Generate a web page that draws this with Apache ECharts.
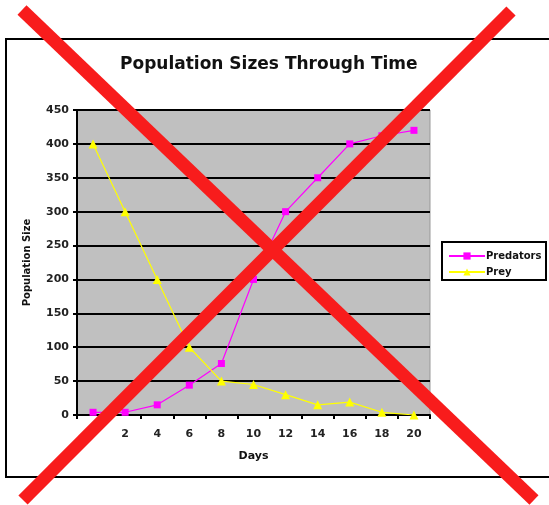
<!DOCTYPE html>
<html>
<head>
<meta charset="utf-8">
<script src="https://cdn.jsdelivr.net/npm/echarts@6/dist/echarts.min.js"></script>
<style>html,body{margin:0;padding:0;background:#fff;}#c{width:549px;height:505px;}</style>
</head>
<body>
<div id="c"></div>
<script>
var days = ['0', '2', '4', '6', '8', '10', '12', '14', '16', '18', '20'];
var dayLabels = ['', '2', '4', '6', '8', '10', '12', '14', '16', '18', '20'];
var predators = [4, 4, 15, 44, 76, 200, 300, 350, 400, 412, 420];
var prey = [400, 300, 200, 100, 50, 45, 30, 15, 19, 4, 0];
var yTicks = [0, 50, 100, 150, 200, 250, 300, 350, 400, 450];

var chart = echarts.init(document.getElementById('c'), null, {renderer: 'canvas'});
var font = 'DejaVu Sans, Verdana, sans-serif';
chart.setOption({
  animation: false,
  backgroundColor: '#fff',
  title: {
    text: 'Population Sizes Through Time',
    left: 115, top: 51,
    textStyle: {fontFamily: font, fontWeight: 'bold', fontSize: 17, color: '#111'}
  },
  legend: {
    orient: 'vertical',
    left: 443, top: 246,
    itemWidth: 36, itemHeight: 9, itemGap: 6,
    textStyle: {fontFamily: font, fontSize: 10, fontWeight: 'bold', color: '#111', padding: [0,0,0,-4]},
    data: ['Predators', 'Prey']
  },
  grid: {left: 77, top: 110, right: 119, bottom: 90, show: true, backgroundColor: '#c0c0c0', borderColor: '#999', borderWidth: 1},
  xAxis: {
    type: 'category', data: days, boundaryGap: true,
    name: 'Days', nameLocation: 'middle', nameGap: 36,
    nameTextStyle: {fontFamily: font, fontWeight: 'bold', fontSize: 11, color: '#111'},
    axisLine: {lineStyle: {color: '#000', width: 2}},
    axisTick: {show: true, inside: false, length: 4, lineStyle: {color: '#000', width: 2}},
    axisLabel: {fontFamily: font, fontSize: 11, fontWeight: 'bold', color: '#222', margin: 14,
      formatter: function (v, i) { return dayLabels[i]; }},
    splitLine: {show: false}
  },
  yAxis: {
    type: 'value', min: 0, max: 450, interval: 50,
    name: 'Population Size', nameLocation: 'middle', nameGap: 45,
    nameTextStyle: {fontFamily: font, fontWeight: 'bold', fontSize: 10, color: '#111'},
    axisLine: {show: true, lineStyle: {color: '#000', width: 2}},
    axisTick: {show: true, length: 4, lineStyle: {color: '#000', width: 2}},
    axisLabel: {fontFamily: font, fontSize: 11, fontWeight: 'bold', color: '#222', margin: 8,
      formatter: function (v) { return yTicks.indexOf(v) >= 0 ? String(v) : ''; }},
    splitLine: {show: true, lineStyle: {color: '#000', width: 2}}
  },
  series: [
    {name: 'Predators', type: 'line', data: predators, color: '#ff00ff',
     symbol: 'rect', symbolSize: 7, lineStyle: {width: 1.2, color: '#ff00ff'},
     itemStyle: {color: '#ff00ff'}, z: 3},
    {name: 'Prey', type: 'line', data: prey, color: '#ffff00',
     symbol: 'triangle', symbolSize: 9, lineStyle: {width: 1.2, color: '#ffff00'},
     itemStyle: {color: '#ffff00'}, z: 3}
  ],
  graphic: [
    {type: 'rect', shape: {x: 6, y: 39, width: 560, height: 438}, style: {fill: null, stroke: '#000', lineWidth: 2}, z: 0, silent: true},
    {type: 'rect', shape: {x: 442, y: 242, width: 104, height: 38}, style: {fill: null, stroke: '#000', lineWidth: 2}, z: 0, silent: true},
    {type: 'line', shape: {x1: 22, y1: 10, x2: 534, y2: 500}, style: {stroke: '#f81c1c', lineWidth: 13, lineCap: 'butt'}, z: 100, silent: true},
    {type: 'line', shape: {x1: 511, y1: 11, x2: 23, y2: 500}, style: {stroke: '#f81c1c', lineWidth: 13, lineCap: 'butt'}, z: 100, silent: true}
  ]
});
</script>
</body>
</html>
